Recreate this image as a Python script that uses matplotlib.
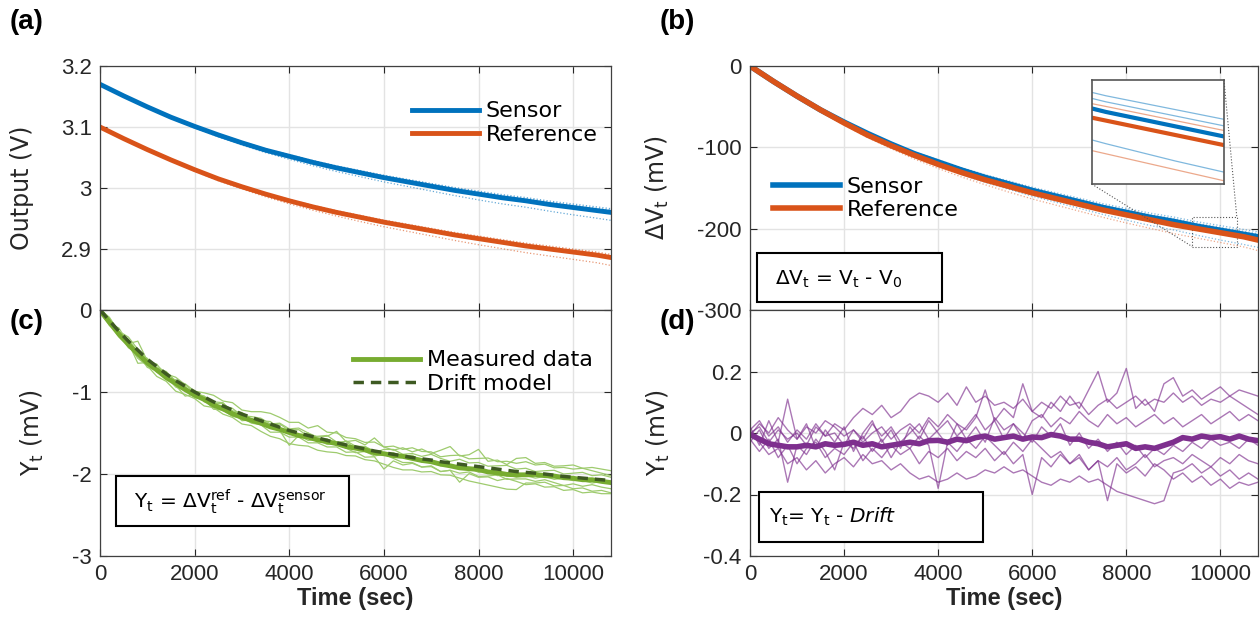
import numpy as np
import matplotlib
matplotlib.use('Agg')
import matplotlib.pyplot as plt
from matplotlib.patches import Rectangle
from matplotlib.ticker import FuncFormatter
from mpl_toolkits.axes_grid1.inset_locator import mark_inset

plt.rcParams['axes.unicode_minus'] = False
plt.rcParams['mathtext.fontset'] = 'dejavusans'

BLUE = '#0072BD'
ORANGE = '#D95319'
GREEN = '#77AC30'
LIGHT_GREEN = '#9ECB6E'
DARK_GREEN = '#3E5A22'
PURPLE = '#7E2F8E'
TICK_FONT = 'Liberation Sans'
TEXT_FONT = 'DejaVu Sans'

# ---- (a)/(b) output voltages, read every 500 s ----
t_v = [0, 500, 1000, 1500, 2000, 2500, 3000, 3500, 4000, 4500, 5000, 5500,
       6000, 6500, 7000, 7500, 8000, 8500, 9000, 9500, 10000, 10500, 10800]
sensor_v = [3.170, 3.151, 3.133, 3.116, 3.101, 3.087, 3.074, 3.062, 3.052, 3.042, 3.033, 3.025,
            3.017, 3.010, 3.003, 2.996, 2.990, 2.984, 2.979, 2.973, 2.968, 2.963, 2.960]
reference_v = [3.100, 3.081, 3.063, 3.046, 3.030, 3.015, 3.002, 2.990, 2.979, 2.969, 2.960, 2.952,
               2.944, 2.937, 2.930, 2.923, 2.917, 2.911, 2.905, 2.900, 2.895, 2.890, 2.886]

# other trials, deviation from the main curve (mV)
sensor_trial_dev = [
    [0, 0.3, 0.6, 1.0, 1.3, 1.6, 2.0, 2.3, 2.6, 3.0, 3.3, 3.6, 4.0, 4.2, 4.5, 4.8, 5.0, 5.2, 5.4, 5.6, 5.8, 6.0, 6.1],
    [0, 0.2, 0.4, 0.6, 0.8, 1.0, 1.2, 1.4, 1.6, 1.8, 2.0, 2.2, 2.4, 2.6, 2.8, 3.0, 3.1, 3.2, 3.4, 3.5, 3.6, 3.7, 3.8],
    [0, -0.5, -1.0, -2.0, -2.5, -3.0, -3.5, -4.0, -5.0, -5.5, -6.0, -6.5, -7.0, -7.5, -8.0, -8.5, -9.5, -10.0, -10.5, -11.0, -12.0, -12.5, -13.0],
]
reference_trial_dev = [
    [0, 0.3, 0.5, 0.8, 1.1, 1.4, 1.7, 2.0, 2.3, 2.6, 2.9, 3.2, 3.4, 3.7, 3.9, 4.1, 4.3, 4.5, 4.7, 4.9, 5.0, 5.1, 5.2],
    [0, 0.1, 0.3, 0.4, 0.6, 0.7, 0.9, 1.0, 1.2, 1.3, 1.5, 1.6, 1.8, 1.9, 2.1, 2.2, 2.4, 2.5, 2.6, 2.7, 2.8, 2.9, 3.0],
    [0, -0.5, -1.0, -1.5, -2.5, -3.0, -3.5, -4.5, -5.0, -5.5, -6.0, -7.0, -7.5, -8.0, -8.5, -9.0, -10.0, -10.5, -11.0, -11.5, -12.0, -12.5, -13.0],
]

# ---- (c)/(d) drift, read every 200 s ----
t_fine = np.arange(0, 10801, 200)
drift_model = [0.00, -0.13, -0.26, -0.38, -0.49, -0.60, -0.69, -0.78, -0.86, -0.93, -1.00,
               -1.06, -1.12, -1.17, -1.22, -1.27, -1.31, -1.35, -1.39, -1.43, -1.47, -1.50,
               -1.53, -1.56, -1.59, -1.62, -1.645, -1.67, -1.695, -1.72, -1.74, -1.76, -1.78,
               -1.80, -1.815, -1.83, -1.85, -1.865, -1.88, -1.895, -1.91, -1.925, -1.94, -1.955,
               -1.97, -1.98, -1.99, -2.00, -2.015, -2.03, -2.04, -2.05, -2.06, -2.07, -2.08]
resid_mean = [-0.005, -0.02, -0.035, -0.04, -0.045, -0.045, -0.04, -0.045, -0.035, -0.04, -0.037,
              -0.03, -0.04, -0.035, -0.045, -0.04, -0.035, -0.03, -0.035, -0.025, -0.024, -0.03,
              -0.02, -0.025, -0.015, -0.01, -0.02, -0.015, -0.01, -0.02, -0.013, -0.015, -0.005,
              -0.01, -0.02, -0.02, -0.03, -0.035, -0.045, -0.04, -0.035, -0.05, -0.045, -0.05,
              -0.04, -0.03, -0.015, -0.02, -0.01, -0.015, -0.012, -0.02, -0.01, -0.02, -0.025]
resid_a = [0.0, 0.02, -0.03, 0.01, -0.02, 0.0, -0.04, 0.02, -0.01, 0.03, 0.01,
           0.05, 0.08, 0.06, 0.09, 0.05, 0.07, 0.11, 0.13, 0.12, 0.1, 0.13,
           0.09, 0.15, 0.1, 0.12, 0.09, 0.1, 0.08, 0.11, 0.07, 0.1, 0.08,
           0.12, 0.09, 0.1, 0.06, 0.09, 0.11, 0.08, 0.1, 0.12, 0.09, 0.11,
           0.1, 0.13, 0.1, 0.12, 0.09, 0.11, 0.1, 0.12, 0.1, 0.08, 0.06]
resid_b = [-0.01, 0.03, 0.0, 0.05, 0.01, -0.02, 0.02, 0.0, 0.04, 0.02, -0.01,
           0.01, -0.03, 0.0, 0.02, -0.02, 0.01, 0.03, 0.0, 0.05, 0.02, 0.06,
           0.03, 0.01, 0.05, 0.14, 0.04, 0.08, 0.05, 0.16, 0.07, 0.05, 0.1,
           0.07, 0.12, 0.08, 0.14, 0.2, 0.1, 0.13, 0.21, 0.08, 0.11, 0.07,
           0.16, 0.18, 0.12, 0.14, 0.11, 0.13, 0.15, 0.12, 0.14, 0.13, 0.12]
resid_c = [0.02, -0.04, 0.04, -0.03, 0.11, -0.02, 0.03, -0.05, 0.01, -0.03, 0.02,
           -0.06, 0.0, 0.04, -0.03, 0.01, -0.05, 0.02, -0.02, 0.04, 0.0, -0.04,
           0.03, -0.02, 0.02, -0.03, 0.05, 0.01, 0.03, -0.02, 0.04, 0.06, 0.02,
           0.05, 0.03, 0.07, 0.04, 0.02, 0.06, 0.03, 0.05, 0.02, 0.04, 0.06,
           0.03, 0.05, 0.02, 0.04, 0.06, 0.03, 0.05, 0.07, 0.04, 0.06, 0.04]
resid_d = [-0.02, -0.06, -0.02, -0.08, -0.04, -0.1, -0.05, -0.03, -0.08, -0.05, -0.07,
           -0.03, -0.09, -0.05, -0.08, -0.04, -0.07, -0.05, -0.1, -0.06, -0.08, -0.05,
           -0.09, -0.06, -0.08, -0.05, -0.09, -0.06, -0.1, -0.07, -0.2, -0.08, -0.11,
           -0.07, -0.1, -0.08, -0.12, -0.09, -0.11, -0.08, -0.12, -0.1, -0.07, -0.11,
           -0.09, -0.08, -0.1, -0.07, -0.09, -0.11, -0.08, -0.1, -0.07, -0.09, -0.1]
resid_e = [0.0, -0.03, -0.07, -0.05, -0.1, -0.08, -0.12, -0.09, -0.13, -0.1, -0.08,
           -0.11, -0.07, -0.1, -0.09, -0.12, -0.1, -0.13, -0.15, -0.14, -0.16, -0.15,
           -0.13, -0.15, -0.14, -0.12, -0.13, -0.11, -0.13, -0.12, -0.14, -0.16, -0.17,
           -0.15, -0.16, -0.14, -0.16, -0.15, -0.17, -0.19, -0.2, -0.21, -0.22, -0.23,
           -0.22, -0.13, -0.12, -0.1, -0.13, -0.11, -0.14, -0.12, -0.15, -0.13, -0.15]
resid_f = [-0.03, 0.01, -0.05, -0.02, -0.16, -0.04, -0.07, -0.02, -0.06, -0.12, -0.03,
           -0.05, -0.01, -0.06, -0.02, -0.08, -0.03, -0.05, -0.01, -0.04, -0.18, -0.03,
           -0.06, -0.02, -0.05, -0.01, -0.04, -0.07, -0.03, -0.06, -0.02, -0.05, -0.08,
           -0.06, -0.1, -0.07, -0.12, -0.09, -0.22, -0.1, -0.13, -0.11, -0.14, -0.1,
           -0.12, -0.15, -0.13, -0.16, -0.14, -0.17, -0.15, -0.18, -0.16, -0.17, -0.16]
resid_g = [0.01, 0.04, -0.01, 0.02, -0.03, 0.01, -0.02, 0.03, -0.01, 0.0, -0.04,
           0.01, -0.02, 0.03, -0.01, 0.02, -0.03, 0.0, 0.03, -0.02, 0.01, 0.04,
           -0.01, 0.02, 0.06, 0.01, 0.04, -0.02, 0.03, 0.0, -0.03, 0.02, -0.01,
           0.03, -0.04, 0.0, -0.05, -0.02, -0.06, -0.03, -0.07, -0.04, -0.08, -0.05,
           -0.07, -0.04, -0.06, -0.03, -0.05, -0.02, -0.04, -0.03, -0.05, -0.02, -0.04]
residual_traces = [resid_a, resid_b, resid_c, resid_d, resid_e, resid_f, resid_g]

x_ticks = [0, 2000, 4000, 6000, 8000, 10000]
x_max = 10800


def style_axes(ax, show_xlabels):
    ax.set_xlim(0, x_max)
    ax.set_xticks(x_ticks)
    ax.tick_params(direction='in', length=5, width=0.8, top=True, right=True,
                   labelsize=16, colors='#262626', pad=6)
    for lab in ax.get_xticklabels() + ax.get_yticklabels():
        lab.set_fontfamily(TICK_FONT)
    if not show_xlabels:
        ax.set_xticklabels([])
    else:
        ax.set_xlabel('Time (sec)', fontsize=17, fontweight='bold',
                      fontfamily=TICK_FONT, color='#262626', labelpad=1)
    ax.grid(True, color='#e3e3e3', lw=1)
    ax.set_axisbelow(True)
    for sp in ax.spines.values():
        sp.set_color('#404040')
        sp.set_linewidth(0.9)
    ax.yaxis.set_major_formatter(FuncFormatter(lambda v, p: '%g' % round(v, 6)))


def formula_box(ax, x0, y0, x1, y1, tx, ty, s, size=14.5):
    ax.add_patch(Rectangle((x0, y0), x1 - x0, y1 - y0, transform=ax.transAxes,
                           fc='white', ec='black', lw=1.5, zorder=5))
    ax.text(tx, ty, s, transform=ax.transAxes, fontsize=size, fontfamily=TEXT_FONT,
            va='center', ha='left', zorder=6)


fig = plt.figure(figsize=(12.6, 6.24), dpi=100)
W, H = 1260, 624
ax_a = fig.add_axes([100 / W, 1 - 310 / H, 511 / W, 244 / H])
ax_c = fig.add_axes([100 / W, 1 - 556 / H, 511 / W, 246 / H])
ax_b = fig.add_axes([750 / W, 1 - 310 / H, 508 / W, 244 / H])
ax_d = fig.add_axes([750 / W, 1 - 556 / H, 508 / W, 246 / H])

sensor_v = np.array(sensor_v)
reference_v = np.array(reference_v)

# (a)
for dev in sensor_trial_dev:
    ax_a.plot(t_v, sensor_v + np.array(dev) / 1000, ':', color=BLUE, lw=0.9, alpha=0.6)
for dev in reference_trial_dev:
    ax_a.plot(t_v, reference_v + np.array(dev) / 1000, ':', color=ORANGE, lw=0.9, alpha=0.6)
ax_a.plot(t_v, sensor_v, color=BLUE, lw=3.5, label='Sensor')
ax_a.plot(t_v, reference_v, color=ORANGE, lw=3.5, label='Reference')
ax_a.set_ylim(2.8, 3.2)
ax_a.set_yticks([2.9, 3.0, 3.1, 3.2])
style_axes(ax_a, False)
ax_a.set_ylabel('Output (V)', fontsize=17, fontfamily=TEXT_FONT, color='#262626')
ax_a.yaxis.set_label_coords(-0.13, 0.5)
ax_a.legend(loc='upper right', bbox_to_anchor=(1.0, 0.91), frameon=False,
            prop={'family': TEXT_FONT, 'size': 16}, handlelength=3.0,
            handletextpad=0.3, labelspacing=0.15, borderaxespad=0.2)

# (b)
dv_sensor = (sensor_v - sensor_v[0]) * 1000
dv_reference = (reference_v - reference_v[0]) * 1000
axins = ax_b.inset_axes([0.673, 0.516, 0.26, 0.426])
for target, style in ((ax_b, ':'), (axins, '-')):
    for dev in sensor_trial_dev:
        target.plot(t_v, dv_sensor + np.array(dev), style, color=BLUE, lw=0.9, alpha=0.5)
    for dev in reference_trial_dev:
        target.plot(t_v, dv_reference + np.array(dev), style, color=ORANGE, lw=0.9, alpha=0.5)
ax_b.plot(t_v, dv_sensor, color=BLUE, lw=4, label='Sensor')
ax_b.plot(t_v, dv_reference, color=ORANGE, lw=4, label='Reference')
axins.plot(t_v, dv_sensor, color=BLUE, lw=3)
axins.plot(t_v, dv_reference, color=ORANGE, lw=3)
axins.set_xlim(9400, 10350)
axins.set_ylim(-222, -186)
axins.set_xticks([])
axins.set_yticks([])
for sp in axins.spines.values():
    sp.set_color('#555555')
    sp.set_linewidth(1.2)
mark_inset(ax_b, axins, loc1=1, loc2=3, fc='none', ec='#555555', lw=0.8, ls=':')
ax_b.set_ylim(-300, 0)
ax_b.set_yticks([-300, -200, -100, 0])
style_axes(ax_b, False)
ax_b.set_ylabel('ΔV$_\\mathrm{t}$ (mV)', fontsize=17, fontfamily=TEXT_FONT, color='#262626')
ax_b.yaxis.set_label_coords(-0.155, 0.5)
ax_b.legend(loc='upper left', bbox_to_anchor=(0.02, 0.6), frameon=False,
            prop={'family': TEXT_FONT, 'size': 16}, handlelength=3.0,
            handletextpad=0.3, labelspacing=0.15, borderaxespad=0.2)
formula_box(ax_b, 0.014, 0.033, 0.378, 0.234, 0.05, 0.127,
            'ΔV$_\\mathrm{t}$ = V$_\\mathrm{t}$ - V$_\\mathrm{0}$')

# (c)
drift = np.array(drift_model)
for r in residual_traces:
    ax_c.plot(t_fine, drift + np.array(r), color=LIGHT_GREEN, lw=0.9)
ax_c.plot(t_fine, drift + np.array(resid_mean), color=GREEN, lw=3.5, label='Measured data')
ax_c.plot(t_fine, drift, '--', color=DARK_GREEN, lw=2.5, dashes=(3, 2), label='Drift model')
ax_c.set_ylim(-3, 0)
ax_c.set_yticks([-3, -2, -1, 0])
style_axes(ax_c, True)
ax_c.set_ylabel('Y$_\\mathrm{t}$ (mV)', fontsize=17, fontfamily=TEXT_FONT, color='#262626')
ax_c.yaxis.set_label_coords(-0.105, 0.5)
ax_c.legend(loc='upper right', bbox_to_anchor=(0.99, 0.89), frameon=False,
            prop={'family': TEXT_FONT, 'size': 16}, handlelength=3.0,
            handletextpad=0.3, labelspacing=0.15, borderaxespad=0.2)
formula_box(ax_c, 0.031, 0.122, 0.487, 0.327, 0.066, 0.22,
            'Y$_\\mathrm{t}$ = ΔV$_\\mathrm{t}^\\mathrm{ref}$ - ΔV$_\\mathrm{t}^\\mathrm{sensor}$')

# (d)
for r in residual_traces:
    ax_d.plot(t_fine, r, color=PURPLE, lw=1.0, alpha=0.65)
ax_d.plot(t_fine, resid_mean, color=PURPLE, lw=4)
ax_d.set_ylim(-0.4, 0.4)
ax_d.set_yticks([-0.4, -0.2, 0, 0.2])
style_axes(ax_d, True)
ax_d.set_ylabel('Y$_\\mathrm{t}$ (mV)', fontsize=17, fontfamily=TEXT_FONT, color='#262626')
ax_d.yaxis.set_label_coords(-0.153, 0.5)
formula_box(ax_d, 0.017, 0.057, 0.459, 0.26, 0.037, 0.159,
            'Y$_\\mathrm{t}$= Y$_\\mathrm{t}$ - $\\it{Drift}$')

# panel letters
for x, y, s in ((10, 22, '(a)'), (660, 22, '(b)'), (10, 322, '(c)'), (660, 322, '(d)')):
    fig.text(x / W, 1 - y / H, s, fontsize=20, fontweight='bold', fontfamily=TICK_FONT,
             va='center', ha='left')

fig.savefig('out.png', dpi=100)
